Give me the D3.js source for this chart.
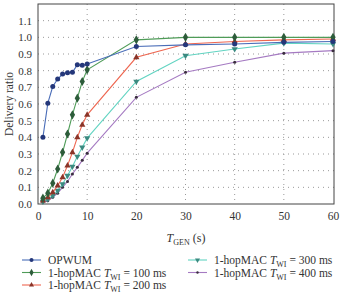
<!DOCTYPE html>
<html>
<head>
<meta charset="utf-8">
<script src="https://cdn.jsdelivr.net/npm/d3@7"></script>
<style>
body { margin: 0; background: #fff; }
svg text { font-family: "Liberation Serif", "DejaVu Serif", serif; fill: #333; }
</style>
</head>
<body>
<script>
// data
var xShort = [1, 2, 3, 4, 5, 6, 7, 8, 9, 10, 20, 30, 40, 50, 60];
var opwum   = [0.40, 0.605, 0.705, 0.75, 0.78, 0.787, 0.79, 0.835, 0.833, 0.84, 0.945, 0.955, 0.96, 0.97, 0.975];
var mac100  = [0.035, 0.065, 0.125, 0.21, 0.31, 0.42, 0.535, 0.635, 0.735, 0.805, 0.985, 1.0, 1.0, 1.0, 1.0];
var mac200  = [0.02, 0.04, 0.07, 0.11, 0.16, 0.23, 0.31, 0.40, 0.475, 0.535, 0.88, 0.96, 0.975, 0.985, 0.99];
var mac300  = [0.015, 0.03, 0.05, 0.08, 0.12, 0.17, 0.225, 0.285, 0.34, 0.395, 0.735, 0.89, 0.93, 0.965, 0.96];
var mac400  = [0.01, 0.02, 0.04, 0.065, 0.1, 0.135, 0.18, 0.22, 0.262, 0.305, 0.64, 0.79, 0.85, 0.905, 0.92];
var xTicks = [0, 10, 20, 30, 40, 50, 60];
var yTicks = [0, 0.1, 0.2, 0.3, 0.4, 0.5, 0.6, 0.7, 0.8, 0.9, 1.0, 1.1];

var series = [
  {name: "OPWUM", twi: null, values: opwum, line: "#4a6db8", fill: "#24377a", shape: "circle"},
  {name: "1-hopMAC", twi: "100", values: mac100, line: "#4f9c58", fill: "#2d5c3a", shape: "diamond"},
  {name: "1-hopMAC", twi: "200", values: mac200, line: "#ee6650", fill: "#8a3428", shape: "triangle"},
  {name: "1-hopMAC", twi: "300", values: mac300, line: "#62d4c2", fill: "#3b8a80", shape: "down"},
  {name: "1-hopMAC", twi: "400", values: mac400, line: "#a57ac2", fill: "#3a2d3f", shape: "dot"}
];

var W = 340, H = 293;
var plot = {left: 38, right: 334, top: 4, bottom: 204};

var svg = d3.select("body").append("svg")
  .attr("width", W).attr("height", H);

var x = d3.scaleLinear().domain([0, 60]).range([plot.left, plot.right - 1]);
var y = d3.scaleLinear().domain([0, 1.2]).range([plot.bottom, plot.top]);

// grid
svg.append("g").selectAll("line").data(xTicks.slice(1, -1)).enter().append("line")
  .attr("x1", function(d){ return x(d); }).attr("x2", function(d){ return x(d); })
  .attr("y1", plot.top).attr("y2", plot.bottom)
  .attr("stroke", "#999").attr("stroke-width", 1).attr("stroke-dasharray", "1,4");
svg.append("g").selectAll("line").data(yTicks.slice(1)).enter().append("line")
  .attr("x1", plot.left).attr("x2", plot.right)
  .attr("y1", function(d){ return y(d); }).attr("y2", function(d){ return y(d); })
  .attr("stroke", "#999").attr("stroke-width", 1).attr("stroke-dasharray", "1,4");

// frame
svg.append("rect")
  .attr("x", plot.left).attr("y", plot.top)
  .attr("width", plot.right - plot.left).attr("height", plot.bottom - plot.top)
  .attr("fill", "none").attr("stroke", "#444").attr("stroke-width", 1);

// axes
var xAxis = svg.append("g").attr("transform", "translate(0," + plot.bottom + ")")
  .call(d3.axisBottom(x).tickValues(xTicks).tickSize(0).tickPadding(8).tickFormat(d3.format("d")));
xAxis.select(".domain").remove();
xAxis.selectAll("text").style("font-size", "11.5px").attr("fill", "#333");

var yAxis = svg.append("g").attr("transform", "translate(" + plot.left + ",0)")
  .call(d3.axisLeft(y).tickValues(yTicks).tickSize(0).tickPadding(6).tickFormat(d3.format(".1f")));
yAxis.select(".domain").remove();
yAxis.selectAll("text").style("font-size", "11px").attr("fill", "#333");

// axis titles
var xt = svg.append("text").attr("x", 186).attr("y", 242).attr("text-anchor", "middle")
  .style("font-size", "12px");
xt.append("tspan").style("font-style", "italic").text("T");
xt.append("tspan").attr("dy", 3).style("font-size", "8px").text("GEN");
xt.append("tspan").attr("dy", -3).text(" (s)");

svg.append("text")
  .attr("transform", "translate(13," + (plot.top + plot.bottom) / 2 + ") rotate(-90)")
  .attr("text-anchor", "middle").style("font-size", "11.5px").text("Delivery ratio");

function marker(g, shape, cx, cy, fill, k) {
  k = k || 1;
  if (shape === "circle") {
    g.append("circle").attr("cx", cx).attr("cy", cy).attr("r", 2.5 * k).attr("fill", fill);
  } else if (shape === "dot") {
    g.append("circle").attr("cx", cx).attr("cy", cy).attr("r", 1.5 * k).attr("fill", fill);
  } else {
    var sym = shape === "diamond" ? d3.symbolDiamond : d3.symbolTriangle;
    var size = (shape === "diamond" ? 24 : 17) * k * k;
    g.append("path").attr("d", d3.symbol().type(sym).size(size)())
      .attr("transform", "translate(" + cx + "," + cy + ")" + (shape === "down" ? " rotate(180)" : ""))
      .attr("fill", fill);
  }
}

var line = d3.line()
  .x(function(d){ return x(d[0]); })
  .y(function(d){ return y(d[1]); });

// draw lowest-priority series first so OPWUM/100 ms sit on top
series.slice().reverse().forEach(function(s) {
  var pts = xShort.map(function(v, i){ return [v, s.values[i]]; });
  var g = svg.append("g");
  g.append("path").datum(pts).attr("d", line)
    .attr("fill", "none").attr("stroke", s.line).attr("stroke-width", 1.1);
  pts.forEach(function(p) { marker(g, s.shape, x(p[0]), y(p[1]), s.fill); });
});

// legend
var legPos = [[22, 260], [22, 272.5], [22, 285], [188, 260], [188, 272.5]];
series.forEach(function(s, i) {
  var lx = legPos[i][0], ly = legPos[i][1];
  var g = svg.append("g");
  g.append("line").attr("x1", lx).attr("x2", lx + 19).attr("y1", ly).attr("y2", ly)
    .attr("stroke", s.line).attr("stroke-width", 1.1);
  marker(g, s.shape, lx + 9.5, ly, s.fill, 0.8);
  var t = g.append("text").attr("x", lx + 26).attr("y", ly + 4).style("font-size", "11.5px");
  t.append("tspan").text(s.name);
  if (s.twi) {
    t.append("tspan").style("font-style", "italic").text(" T");
    t.append("tspan").attr("dy", 3).style("font-size", "8px").text("WI");
    t.append("tspan").attr("dy", -3).text(" = " + s.twi + " ms");
  }
});
</script>
</body>
</html>
